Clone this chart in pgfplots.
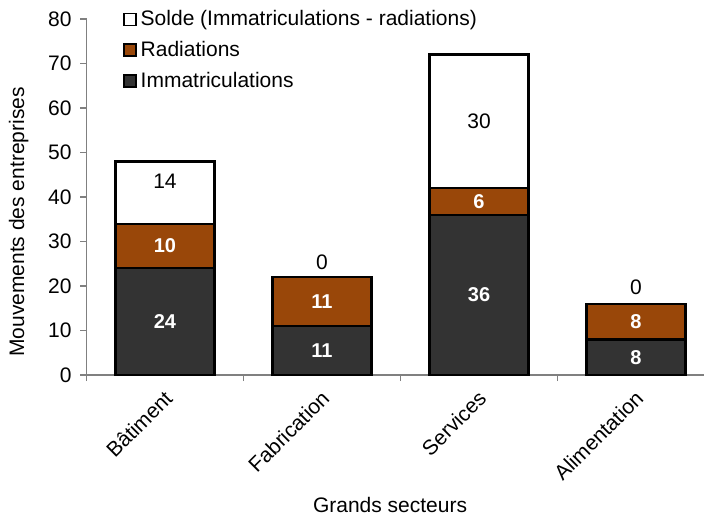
\documentclass[border=0pt]{standalone}
\usepackage{pgfplots}
\pgfplotsset{compat=1.18}
\usepackage{fontspec}
\setmainfont{Liberation Sans}
\definecolor{immat}{HTML}{333333}
\definecolor{radi}{HTML}{994709}
\definecolor{axgray}{HTML}{808080}
% columns: x, value, label, extra downward offset of label (axis units)
% (a zero segment is given as 0.001 so that its label "0" is drawn)
\pgfplotstableread{
x y lab off
0 24 24 0
1 11 11 0
2 36 36 0
3 8 8 0
}\immat
\pgfplotstableread{
x y lab off
0 10 10 0
1 11 11 0
2 6 6 0
3 8 8 0
}\radi
\pgfplotstableread{
x y lab off
0 14 14 -2.6
1 0.001 0 -3.4
2 30 30 0
3 0.001 0 -3.8
}\solde
\begin{document}
\begin{tikzpicture}[font=\fontsize{10.5}{12.6}\selectfont]
\useasboundingbox (-43.25pt,-70pt) rectangle (308.75pt,187.5pt);
\begin{axis}[
  at={(0,0)}, anchor=south west,
  scale only axis, width=308.5pt, height=178pt,
  ybar stacked, bar width=49.5pt,
  xmin=-0.5, xmax=3.43, ymin=0, ymax=80,
  clip=false,
  ytick={0,10,...,80},
  xtick={0,1,2,3},
  xticklabels={Bâtiment,Fabrication,Services,Alimentation},
  major x tick style={draw=none},
  extra x ticks={-0.5,0.5,1.5,2.5},
  extra x tick labels={},
  extra x tick style={major x tick style={draw=axgray, line width=0.6pt}, major tick length=3pt},
  ytick style={draw=axgray, line width=0.6pt},
  major tick length=3pt,
  axis lines*=left,
  axis line style={axgray, line width=0.6pt},
  tick align=outside,
  /pgf/number format/assume math mode=true,
  yticklabel style={xshift=-1pt},
  xticklabel style={rotate=45, anchor=north east, inner sep=1pt, xshift=-2.5pt, yshift=-1pt},
  ylabel={Mouvements des entreprises},
  ylabel style={at={(rel axis cs:-0.11,0.43)}, anchor=center},
  xlabel={Grands secteurs},
  xlabel style={at={(rel axis cs:0.492,-0.365)}, anchor=center},
  legend style={draw=none, fill=none, at={(rel axis cs:0.049,1.048)}, anchor=north west, row sep=2.3pt, cells={anchor=west}},
  legend cell align=left,
  reverse legend,
  legend image code/.code={\draw[#1, draw=black, line width=0.8pt] (0pt,-3pt) rectangle (6pt,3pt);},
  point meta=explicit symbolic,
]
\addplot[fill=immat, draw=black, line width=1.2pt,
  nodes near coords,
  visualization depends on=\thisrow{off} \as \off,
  every node near coord/.append style={text=white, font=\bfseries, anchor=center, shift={(axis direction cs:0,-\off)}}]
  table[x=x, y=y, meta=lab] {\immat};
\addlegendentry{Immatriculations}
\addplot[fill=radi, draw=black, line width=1.2pt,
  nodes near coords,
  visualization depends on=\thisrow{off} \as \off,
  every node near coord/.append style={text=white, font=\bfseries, anchor=center, shift={(axis direction cs:0,-\off)}}]
  table[x=x, y=y, meta=lab] {\radi};
\addlegendentry{Radiations}
\addplot[fill=white, draw=black, line width=1.2pt,
  nodes near coords,
  visualization depends on=\thisrow{off} \as \off,
  every node near coord/.append style={text=black, anchor=center, shift={(axis direction cs:0,-\off)}}]
  table[x=x, y=y, meta=lab] {\solde};
\addlegendentry{Solde (Immatriculations - radiations)}
\end{axis}
\end{tikzpicture}
\end{document}
